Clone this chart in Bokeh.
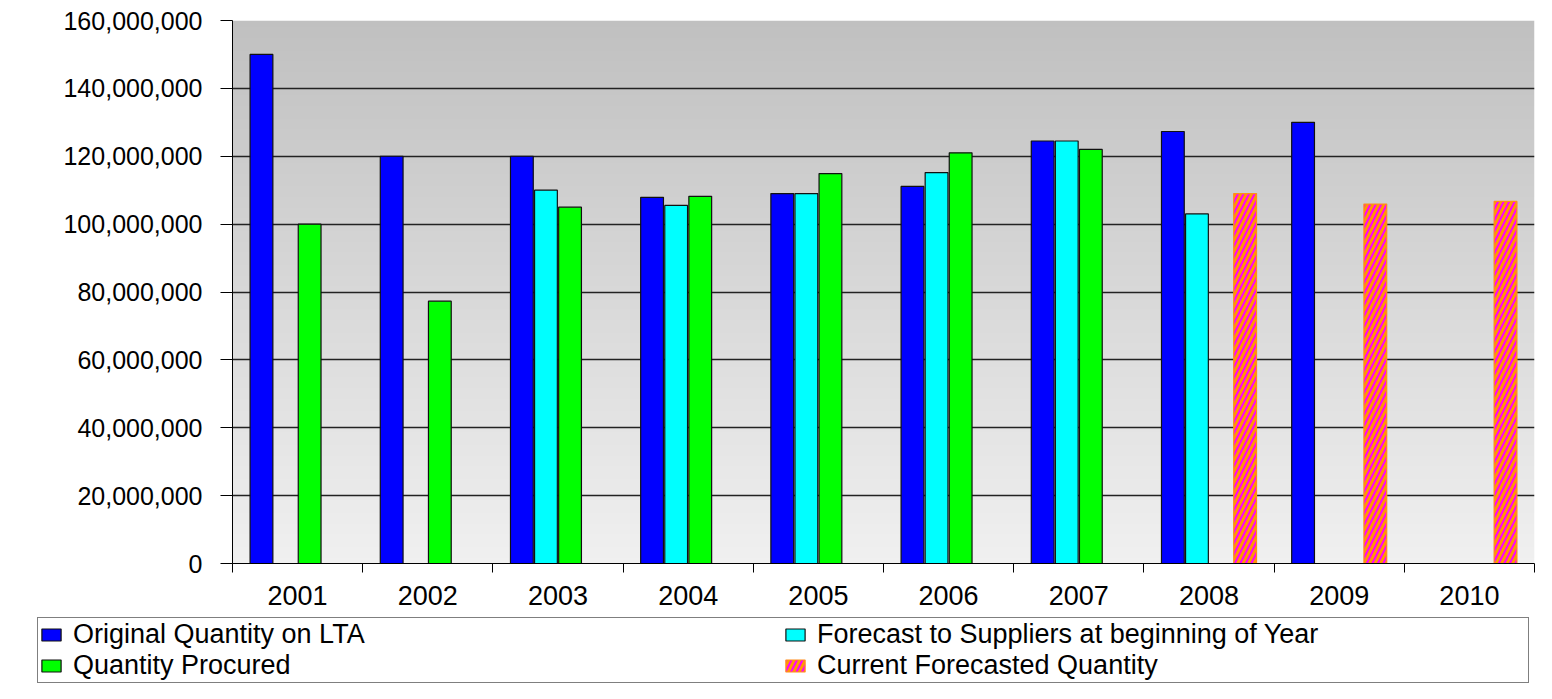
import numpy as np
from bokeh.plotting import figure
from bokeh.layouts import column, row
from bokeh.models import (Range1d, FixedTicker, NumeralTickFormatter, ColumnDataSource,
                          Legend, LegendItem)
from bokeh.embed import file_html
from bokeh.resources import INLINE

# ---------------- data (units: items) ----------------
years = ["2001", "2002", "2003", "2004", "2005", "2006", "2007", "2008", "2009", "2010"]
original_lta = [150e6, 120e6, 120e6, 107.9e6, 109.0e6, 111.1e6, 124.5e6, 127.3e6, 130.0e6, None]
forecast_begin = [None, None, 110.0e6, 105.5e6, 109.0e6, 115.2e6, 124.5e6, 103.0e6, None, None]
procured = [100e6, 77.3e6, 105.0e6, 108.2e6, 114.9e6, 121.0e6, 122.0e6, None, None, None]
current_forecast = [None, None, None, None, None, None, None, 109.0e6, 105.9e6, 106.7e6]
y_ticks = [0, 20e6, 40e6, 60e6, 80e6, 100e6, 120e6, 140e6, 160e6]

series_names = ["Original Quantity on LTA", "Forecast to Suppliers at beginning of Year",
                "Quantity Procured", "Current Forecasted Quantity"]

FONT = "Liberation Sans"

p = figure(width=1536, height=617, x_range=Range1d(0, 10), y_range=Range1d(0, 160e6),
           output_backend="svg", toolbar_location=None,
           min_border_left=232, min_border_top=20, min_border_bottom=54, min_border_right=2)
p.outline_line_color = None
p.background_fill_color = "white"
p.border_fill_color = "white"

# gradient background of the plot area
N = 256
img = np.empty((N, 1), dtype=np.uint32)
view = img.view(dtype=np.uint8).reshape((N, 1, 4))
for i in range(N):
    v = int(round(0xF0 - (0xF0 - 0xC0) * i / (N - 1)))
    view[i, 0, :] = [v, v, v, 255]
p.image_rgba(image=[img], x=0, y=0, dw=10, dh=160e6, level="image")

# grid
p.xgrid.visible = False
p.ygrid.ticker = FixedTicker(ticks=y_ticks)
p.ygrid.grid_line_color = "#222222"
p.ygrid.grid_line_width = 1.3
p.ygrid.level = "underlay"

# bars
width = 0.175
offsets = [-0.2775, -0.0925, 0.0925, 0.2775]
series = [original_lta, forecast_begin, procured, current_forecast]
styles = [
    dict(fill_color="#0000ff", line_color="#111111"),
    dict(fill_color="#00ffff", line_color="#111111"),
    dict(fill_color="#00ff00", line_color="#111111"),
    dict(fill_color="#ff9900", line_color="#ff8c1a", hatch_pattern="right_diagonal_line",
         hatch_color="#ff00ff", hatch_weight=2, hatch_scale=11),
]
for vals, off, st in zip(series, offsets, styles):
    xs = [i + 0.5 + off for i, v in enumerate(vals) if v is not None]
    tops = [v for v in vals if v is not None]
    src = ColumnDataSource(dict(x=xs, top=tops))
    p.vbar(x="x", top="top", bottom=0, width=width, source=src, line_width=1.2, **st)

# y axis
p.yaxis.ticker = FixedTicker(ticks=y_ticks)
p.yaxis.formatter = NumeralTickFormatter(format="0,0")
p.yaxis.major_label_text_font = FONT
p.yaxis.major_label_text_font_size = "25px"
p.yaxis.major_label_text_color = "black"
p.yaxis.major_tick_out = 12
p.yaxis.major_tick_in = 0
p.yaxis.major_tick_line_color = "black"
p.yaxis.major_label_standoff = 18
p.yaxis.minor_tick_line_color = None
p.yaxis.axis_line_color = "black"

# x axis
centers = [i + 0.5 for i in range(len(years))]
bounds = [float(i) for i in range(len(years) + 1)]
p.xaxis.ticker = FixedTicker(ticks=centers, minor_ticks=bounds)
p.xaxis.major_label_overrides = {c: y for c, y in zip(centers, years)}
p.xaxis.major_label_text_font = FONT
p.xaxis.major_label_text_font_size = "27px"
p.xaxis.major_label_text_color = "black"
p.xaxis.major_tick_line_color = None
p.xaxis.major_tick_out = 0
p.xaxis.major_tick_in = 0
p.xaxis.major_label_standoff = 13
p.xaxis.minor_tick_line_color = "black"
p.xaxis.minor_tick_out = 9
p.xaxis.minor_tick_in = 0
p.xaxis.axis_line_color = "black"

# legend, in its own strip below the chart (same styles as the bars;
# each proxy renderer holds one bar outside the strip's visible range)
lf = figure(width=1536, height=66, x_range=Range1d(0, 1), y_range=Range1d(0, 1),
            output_backend="svg", toolbar_location=None, min_border=0)
lf.axis.visible = False
lf.grid.visible = False
lf.outline_line_color = None
lrs = []
for st in styles:
    proxy = ColumnDataSource(dict(x=[-5.0], top=[0.0]))
    lrs.append(lf.vbar(x="x", top="top", bottom=0, width=0.1, source=proxy,
                       line_width=1.2, **st))
items = [
    LegendItem(label=series_names[0], renderers=[lrs[0]]),
    LegendItem(label=series_names[2], renderers=[lrs[2]]),
    LegendItem(label=series_names[1], renderers=[lrs[1]]),
    LegendItem(label=series_names[3], renderers=[lrs[3]]),
]
legend = Legend(items=items, location=(37, 0), orientation="vertical", ncols=2,
                label_text_font=FONT, label_text_font_size="27px", label_text_color="black",
                glyph_width=24, glyph_height=15, label_standoff=10, label_width=710,
                label_height=30, spacing=0, padding=1, margin=0,
                border_line_color="black", border_line_width=1,
                background_fill_color="white", background_fill_alpha=1.0)
lf.add_layout(legend, "center")

layout = column(p, row(lf), spacing=0)
open("out.html", "w").write(file_html(layout, INLINE))
